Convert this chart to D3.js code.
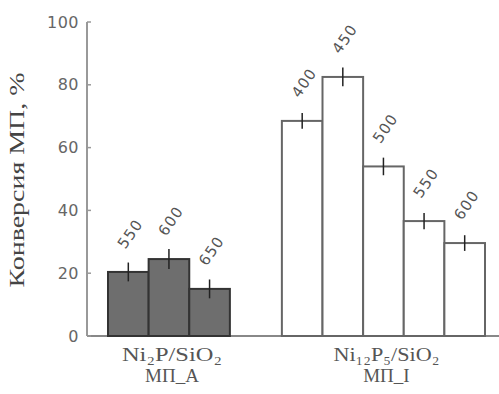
<!DOCTYPE html>
<html><head><meta charset="utf-8">
<script src="https://cdn.jsdelivr.net/npm/d3@7"></script>
<style>body{margin:0;background:#fff}svg{display:block}</style>
</head><body>
<svg id="c" width="499" height="394"></svg>
<script>
const groups = ["Ni₂P/SiO₂", "Ni₁₂P₅/SiO₂"];
const groupSub = ["МП_А", "МП_I"];
const g1Labels = ["550", "600", "650"];
const g1Values = [20.4, 24.5, 15.0];
const g1Errors = [3.0, 3.2, 3.0];
const g2Labels = ["400", "450", "500", "550", "600"];
const g2Values = [68.5, 82.5, 54.0, 36.6, 29.6];
const g2Errors = [2.5, 3.0, 2.8, 2.6, 2.5];
const yTicks = [0, 20, 40, 60, 80, 100];
const yTitle = "Конверсия МП, %";

const svg = d3.select("#c");
const y = d3.scaleLinear().domain([0, 100]).range([336, 22]);
const gapSlots = 1.28;
const x = d3.scaleLinear().domain([0, 8 + gapSlots]).range([108, 485]);
const bw = x(1) - x(0);

const bars = [];
g1Values.forEach((v, i) => bars.push({g: 0, slot: i, v, e: g1Errors[i], lab: g1Labels[i]}));
g2Values.forEach((v, i) => bars.push({g: 1, slot: 3 + gapSlots + i, v, e: g2Errors[i], lab: g2Labels[i]}));

// axes
const yAxis = d3.axisLeft(y).tickValues(yTicks).tickSize(0).tickPadding(8);
const ya = svg.append("g").attr("transform", "translate(87,0)").call(yAxis);
ya.select(".domain").remove();
ya.selectAll("text").attr("font-family", "DejaVu Sans").attr("font-size", 16).attr("fill", "#666").attr("letter-spacing", 0.5);

svg.append("line").attr("x1", 87).attr("x2", 87).attr("y1", y(100)).attr("y2", y(0)).attr("stroke", "#999").attr("stroke-width", 2);
svg.append("line").attr("x1", 87).attr("x2", 499).attr("y1", y(0)).attr("y2", y(0)).attr("stroke", "#888").attr("stroke-width", 2);
yTicks.forEach(t => svg.append("line").attr("x1", 87).attr("x2", 91).attr("y1", y(t)).attr("y2", y(t)).attr("stroke", "#999").attr("stroke-width", 1.5));

// bars
svg.selectAll("rect.bar").data(bars).enter().append("rect")
  .attr("x", d => x(d.slot)).attr("width", bw)
  .attr("y", d => y(d.v)).attr("height", d => y(0) - y(d.v))
  .attr("fill", d => d.g === 0 ? "#6e6e6e" : "#fff")
  .attr("stroke", d => d.g === 0 ? "#333" : "#666")
  .attr("stroke-width", 2);

// error bars
svg.selectAll("line.err").data(bars).enter().append("line")
  .attr("x1", d => x(d.slot) + bw / 2).attr("x2", d => x(d.slot) + bw / 2)
  .attr("y1", d => y(d.v + d.e)).attr("y2", d => y(d.v - d.e))
  .attr("stroke", "#222").attr("stroke-width", 1.5);

// bar labels
svg.selectAll("text.lab").data(bars).enter().append("text")
  .attr("transform", d => `translate(${x(d.slot) + bw / 2 + 2},${y(d.v) - 38}) rotate(-55)`)
  .attr("text-anchor", "middle").attr("dominant-baseline", "central")
  .attr("font-family", "DejaVu Sans").attr("font-size", 15).attr("fill", "#555").attr("letter-spacing", 1)
  .text(d => d.lab);

// group labels
const gCenters = [ (x(0) + x(3)) / 2, (x(3 + gapSlots) + x(8 + gapSlots)) / 2 ];
const gLens = [100, 106];
groups.forEach((gname, i) => {
  svg.append("text").attr("x", gCenters[i] + 3).attr("y", 361).attr("text-anchor", "middle")
    .attr("font-family", "Liberation Serif").attr("font-size", 19).attr("fill", "#555")
    .attr("textLength", gLens[i]).attr("lengthAdjust", "spacingAndGlyphs").text(gname);
  svg.append("text").attr("x", gCenters[i] + 3).attr("y", 382).attr("text-anchor", "middle")
    .attr("font-family", "Liberation Serif").attr("font-size", 19).attr("fill", "#555").text(groupSub[i]);
});

// y title
svg.append("text").attr("transform", "translate(24,180) rotate(-90)")
  .attr("text-anchor", "middle").attr("font-family", "Liberation Serif").attr("font-size", 22)
  .attr("fill", "#444").attr("textLength", 215).attr("lengthAdjust", "spacingAndGlyphs").text(yTitle);
</script>
</body></html>
